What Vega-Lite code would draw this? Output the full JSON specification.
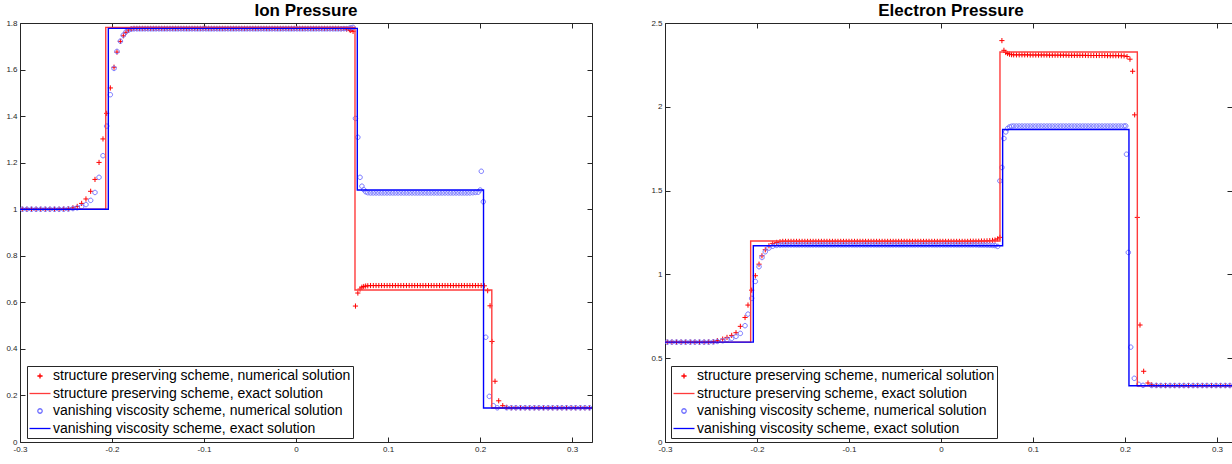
{
"$schema":"https://vega.github.io/schema/vega-lite/v6.json",
"background":"#ffffff",
"padding":{"left":5,"top":2,"right":0,"bottom":0},
"spacing":57,
"datasets":{
"ionP":[
{"x":-0.2975,"a":1,"b":1},{"x":-0.2925,"a":1,"b":1},{"x":-0.2875,"a":1,"b":1},{"x":-0.2825,"a":1,"b":1},{"x":-0.2775,"a":1,"b":1},{"x":-0.2725,"a":1,"b":1},{"x":-0.2675,"a":1,"b":1},{"x":-0.2625,"a":1,"b":1},{"x":-0.2575,"a":1,"b":1},{"x":-0.2525,"a":1.001,"b":1},
{"x":-0.2475,"a":1.002,"b":1.001},{"x":-0.2425,"a":1.006,"b":1.003},{"x":-0.2378,"a":1.012,"b":1.006},{"x":-0.233,"a":1.025,"b":1.011},{"x":-0.2283,"a":1.044,"b":1.02},{"x":-0.2232,"a":1.077,"b":1.038},{"x":-0.2185,"a":1.128,"b":1.072},{"x":-0.2141,"a":1.201,"b":1.137},{"x":-0.2098,"a":1.302,"b":1.23},{"x":-0.2058,"a":1.412,"b":1.357},{"x":-0.2018,"a":1.521,"b":1.492},{"x":-0.1978,"a":1.61,"b":1.605},{"x":-0.1946,"a":1.675,"b":1.678},{"x":-0.1909,"a":1.721,"b":1.722},{"x":-0.1877,"a":1.745,"b":1.748},{"x":-0.1848,"a":1.76,"b":1.762},{"x":-0.1819,"a":1.77,"b":1.77},{"x":-0.179,"a":1.775,"b":1.774},{"x":-0.1761,"a":1.777,"b":1.775},
{"x":-0.173,"a":1.777,"b":1.775},{"x":-0.17,"a":1.777,"b":1.775},{"x":-0.167,"a":1.777,"b":1.775},{"x":-0.164,"a":1.777,"b":1.775},{"x":-0.161,"a":1.777,"b":1.775},{"x":-0.158,"a":1.777,"b":1.775},{"x":-0.155,"a":1.777,"b":1.775},{"x":-0.152,"a":1.777,"b":1.775},{"x":-0.149,"a":1.777,"b":1.775},{"x":-0.146,"a":1.777,"b":1.775},{"x":-0.143,"a":1.777,"b":1.775},{"x":-0.14,"a":1.777,"b":1.775},{"x":-0.137,"a":1.777,"b":1.775},{"x":-0.134,"a":1.777,"b":1.775},{"x":-0.131,"a":1.777,"b":1.775},{"x":-0.128,"a":1.777,"b":1.775},{"x":-0.125,"a":1.777,"b":1.775},{"x":-0.122,"a":1.777,"b":1.775},{"x":-0.119,"a":1.777,"b":1.775},{"x":-0.116,"a":1.777,"b":1.775},{"x":-0.113,"a":1.777,"b":1.775},{"x":-0.11,"a":1.777,"b":1.775},{"x":-0.107,"a":1.777,"b":1.775},{"x":-0.104,"a":1.777,"b":1.775},{"x":-0.101,"a":1.777,"b":1.775},{"x":-0.098,"a":1.777,"b":1.775},{"x":-0.095,"a":1.777,"b":1.775},{"x":-0.092,"a":1.777,"b":1.775},{"x":-0.089,"a":1.777,"b":1.775},{"x":-0.086,"a":1.777,"b":1.775},{"x":-0.083,"a":1.777,"b":1.775},{"x":-0.08,"a":1.777,"b":1.775},{"x":-0.077,"a":1.777,"b":1.775},{"x":-0.074,"a":1.777,"b":1.775},{"x":-0.071,"a":1.777,"b":1.775},{"x":-0.068,"a":1.777,"b":1.775},{"x":-0.065,"a":1.777,"b":1.775},{"x":-0.062,"a":1.777,"b":1.775},{"x":-0.059,"a":1.777,"b":1.775},{"x":-0.056,"a":1.777,"b":1.775},{"x":-0.053,"a":1.777,"b":1.775},{"x":-0.05,"a":1.777,"b":1.775},{"x":-0.047,"a":1.777,"b":1.775},{"x":-0.044,"a":1.777,"b":1.775},{"x":-0.041,"a":1.777,"b":1.775},{"x":-0.038,"a":1.777,"b":1.775},{"x":-0.035,"a":1.777,"b":1.775},{"x":-0.032,"a":1.777,"b":1.775},{"x":-0.029,"a":1.777,"b":1.775},{"x":-0.026,"a":1.777,"b":1.775},{"x":-0.023,"a":1.777,"b":1.775},{"x":-0.02,"a":1.777,"b":1.775},{"x":-0.017,"a":1.777,"b":1.775},{"x":-0.014,"a":1.777,"b":1.775},{"x":-0.011,"a":1.777,"b":1.775},{"x":-0.008,"a":1.777,"b":1.775},{"x":-0.005,"a":1.777,"b":1.775},{"x":-0.002,"a":1.777,"b":1.775},{"x":0.001,"a":1.777,"b":1.775},{"x":0.004,"a":1.777,"b":1.775},{"x":0.007,"a":1.777,"b":1.775},{"x":0.01,"a":1.777,"b":1.775},{"x":0.013,"a":1.777,"b":1.775},{"x":0.016,"a":1.777,"b":1.775},{"x":0.019,"a":1.777,"b":1.775},{"x":0.022,"a":1.777,"b":1.775},{"x":0.025,"a":1.777,"b":1.775},{"x":0.028,"a":1.777,"b":1.775},{"x":0.031,"a":1.777,"b":1.775},{"x":0.034,"a":1.777,"b":1.775},{"x":0.037,"a":1.777,"b":1.775},{"x":0.04,"a":1.777,"b":1.775},{"x":0.043,"a":1.777,"b":1.775},{"x":0.046,"a":1.777,"b":1.775},{"x":0.049,"a":1.776,"b":1.775},{"x":0.052,"a":1.776,"b":1.776},{"x":0.055,"a":1.774,"b":1.776},{"x":0.058,"a":1.771,"b":1.777},
{"x":0.0595,"a":1.768,"b":1.779},{"x":0.062,"a":1.764,"b":1.781},{"x":0.0646,"a":0.584,"b":1.39},{"x":0.0672,"a":0.64,"b":1.309},{"x":0.0696,"a":0.657,"b":1.137},{"x":0.0716,"a":0.665,"b":1.099},{"x":0.0736,"a":0.668,"b":1.084},{"x":0.0757,"a":0.67,"b":1.075},{"x":0.078,"a":0.671,"b":1.071},
{"x":0.081,"a":0.672,"b":1.07},{"x":0.084,"a":0.672,"b":1.07},{"x":0.087,"a":0.672,"b":1.07},{"x":0.09,"a":0.672,"b":1.07},{"x":0.093,"a":0.672,"b":1.07},{"x":0.096,"a":0.672,"b":1.07},{"x":0.099,"a":0.672,"b":1.07},{"x":0.102,"a":0.672,"b":1.07},{"x":0.105,"a":0.672,"b":1.07},{"x":0.108,"a":0.672,"b":1.07},{"x":0.111,"a":0.672,"b":1.07},{"x":0.114,"a":0.672,"b":1.07},{"x":0.117,"a":0.672,"b":1.07},{"x":0.12,"a":0.672,"b":1.07},{"x":0.123,"a":0.672,"b":1.07},{"x":0.126,"a":0.672,"b":1.07},{"x":0.129,"a":0.672,"b":1.07},{"x":0.132,"a":0.672,"b":1.07},{"x":0.135,"a":0.672,"b":1.07},{"x":0.138,"a":0.672,"b":1.07},{"x":0.141,"a":0.672,"b":1.07},{"x":0.144,"a":0.672,"b":1.07},{"x":0.147,"a":0.672,"b":1.07},{"x":0.15,"a":0.672,"b":1.07},{"x":0.153,"a":0.672,"b":1.07},{"x":0.156,"a":0.672,"b":1.07},{"x":0.159,"a":0.672,"b":1.07},{"x":0.162,"a":0.672,"b":1.07},{"x":0.165,"a":0.672,"b":1.07},{"x":0.168,"a":0.672,"b":1.07},{"x":0.171,"a":0.672,"b":1.07},{"x":0.174,"a":0.672,"b":1.07},{"x":0.177,"a":0.672,"b":1.07},{"x":0.18,"a":0.672,"b":1.07},{"x":0.183,"a":0.672,"b":1.07},{"x":0.186,"a":0.672,"b":1.07},{"x":0.189,"a":0.672,"b":1.07},{"x":0.192,"a":0.672,"b":1.071},{"x":0.195,"a":0.672,"b":1.072},{"x":0.198,"a":0.672,"b":1.073},
{"x":0.2002,"b":1.0825},{"x":0.2014,"b":1.163},{"x":0.2036,"b":1.032},{"x":0.2062,"b":0.45},{"x":0.2101,"b":0.196},{"x":0.2145,"b":0.156},{"x":0.2188,"b":0.147},
{"x":0.2012,"a":0.672},{"x":0.2047,"a":0.671},{"x":0.2083,"a":0.65},{"x":0.2109,"a":0.585},{"x":0.213,"a":0.432},{"x":0.2163,"a":0.261},{"x":0.2203,"a":0.177},{"x":0.2247,"a":0.156},
{"x":0.229,"a":0.149,"b":0.147},{"x":0.234,"a":0.147,"b":0.147},{"x":0.239,"a":0.147,"b":0.147},{"x":0.244,"a":0.147,"b":0.147},{"x":0.249,"a":0.147,"b":0.147},{"x":0.254,"a":0.147,"b":0.147},{"x":0.259,"a":0.147,"b":0.147},{"x":0.264,"a":0.147,"b":0.147},{"x":0.269,"a":0.147,"b":0.147},{"x":0.274,"a":0.147,"b":0.147},{"x":0.279,"a":0.147,"b":0.147},{"x":0.284,"a":0.147,"b":0.147},{"x":0.289,"a":0.147,"b":0.147},{"x":0.294,"a":0.147,"b":0.147},{"x":0.299,"a":0.147,"b":0.147},{"x":0.304,"a":0.147,"b":0.147},{"x":0.309,"a":0.147,"b":0.147},{"x":0.314,"a":0.147,"b":0.147},{"x":0.319,"a":0.147,"b":0.147}
],
"ionE":[
{"k":"c","x":-0.3,"v":1},{"k":"c","x":-0.2068,"v":1},{"k":"c","x":-0.2068,"v":1.781},{"k":"c","x":0.0641,"v":1.781},{"k":"c","x":0.0641,"v":0.653},{"k":"c","x":0.2128,"v":0.653},{"k":"c","x":0.2128,"v":0.146},{"k":"c","x":0.3217,"v":0.146},
{"k":"d","x":-0.3,"v":1},{"k":"d","x":-0.204,"v":1},{"k":"d","x":-0.204,"v":1.777},{"k":"d","x":0.0666,"v":1.777},{"k":"d","x":0.0666,"v":1.0825},{"k":"d","x":0.2038,"v":1.0825},{"k":"d","x":0.2038,"v":0.146},{"k":"d","x":0.3217,"v":0.146}
],
"elP":[
{"x":-0.2975,"a":0.596,"b":0.596},{"x":-0.2925,"a":0.596,"b":0.596},{"x":-0.2875,"a":0.596,"b":0.596},{"x":-0.2825,"a":0.596,"b":0.596},{"x":-0.2775,"a":0.596,"b":0.596},{"x":-0.2725,"a":0.596,"b":0.596},{"x":-0.2675,"a":0.596,"b":0.596},{"x":-0.2625,"a":0.596,"b":0.596},{"x":-0.2575,"a":0.596,"b":0.596},{"x":-0.2525,"a":0.597,"b":0.596},
{"x":-0.2475,"a":0.599,"b":0.597},{"x":-0.2431,"a":0.605,"b":0.6},{"x":-0.2373,"a":0.614,"b":0.604},{"x":-0.2326,"a":0.624,"b":0.61},{"x":-0.2275,"a":0.636,"b":0.618},{"x":-0.2228,"a":0.652,"b":0.63},{"x":-0.2181,"a":0.69,"b":0.648},{"x":-0.213,"a":0.743,"b":0.694},{"x":-0.2098,"a":0.817,"b":0.763},{"x":-0.2058,"a":0.906,"b":0.857},{"x":-0.2018,"a":0.992,"b":0.958},{"x":-0.1978,"a":1.061,"b":1.046},{"x":-0.1946,"a":1.111,"b":1.101},{"x":-0.191,"a":1.147,"b":1.135},{"x":-0.187,"a":1.171,"b":1.157},{"x":-0.1829,"a":1.185,"b":1.168},{"x":-0.1786,"a":1.191,"b":1.173},{"x":-0.175,"a":1.195,"b":1.175},
{"x":-0.172,"a":1.197,"b":1.176},{"x":-0.169,"a":1.197,"b":1.176},{"x":-0.166,"a":1.197,"b":1.176},{"x":-0.163,"a":1.197,"b":1.176},{"x":-0.16,"a":1.197,"b":1.176},{"x":-0.157,"a":1.197,"b":1.176},{"x":-0.154,"a":1.197,"b":1.176},{"x":-0.151,"a":1.197,"b":1.176},{"x":-0.148,"a":1.197,"b":1.176},{"x":-0.145,"a":1.197,"b":1.176},{"x":-0.142,"a":1.197,"b":1.176},{"x":-0.139,"a":1.197,"b":1.176},{"x":-0.136,"a":1.197,"b":1.176},{"x":-0.133,"a":1.197,"b":1.176},{"x":-0.13,"a":1.197,"b":1.176},{"x":-0.127,"a":1.197,"b":1.176},{"x":-0.124,"a":1.197,"b":1.176},{"x":-0.121,"a":1.197,"b":1.176},{"x":-0.118,"a":1.197,"b":1.176},{"x":-0.115,"a":1.197,"b":1.176},{"x":-0.112,"a":1.197,"b":1.176},{"x":-0.109,"a":1.197,"b":1.176},{"x":-0.106,"a":1.197,"b":1.176},{"x":-0.103,"a":1.197,"b":1.176},{"x":-0.1,"a":1.197,"b":1.176},{"x":-0.097,"a":1.197,"b":1.176},{"x":-0.094,"a":1.197,"b":1.176},{"x":-0.091,"a":1.197,"b":1.176},{"x":-0.088,"a":1.197,"b":1.176},{"x":-0.085,"a":1.197,"b":1.176},{"x":-0.082,"a":1.197,"b":1.176},{"x":-0.079,"a":1.197,"b":1.176},{"x":-0.076,"a":1.197,"b":1.176},{"x":-0.073,"a":1.197,"b":1.176},{"x":-0.07,"a":1.197,"b":1.176},{"x":-0.067,"a":1.197,"b":1.176},{"x":-0.064,"a":1.197,"b":1.176},{"x":-0.061,"a":1.197,"b":1.176},{"x":-0.058,"a":1.197,"b":1.176},{"x":-0.055,"a":1.197,"b":1.176},{"x":-0.052,"a":1.197,"b":1.176},{"x":-0.049,"a":1.197,"b":1.176},{"x":-0.046,"a":1.197,"b":1.176},{"x":-0.043,"a":1.197,"b":1.176},{"x":-0.04,"a":1.197,"b":1.176},{"x":-0.037,"a":1.197,"b":1.176},{"x":-0.034,"a":1.197,"b":1.176},{"x":-0.031,"a":1.197,"b":1.176},{"x":-0.028,"a":1.197,"b":1.176},{"x":-0.025,"a":1.197,"b":1.176},{"x":-0.022,"a":1.197,"b":1.176},{"x":-0.019,"a":1.197,"b":1.176},{"x":-0.016,"a":1.197,"b":1.176},{"x":-0.013,"a":1.197,"b":1.176},{"x":-0.01,"a":1.197,"b":1.176},{"x":-0.007,"a":1.197,"b":1.176},{"x":-0.004,"a":1.197,"b":1.176},{"x":-0.001,"a":1.197,"b":1.176},{"x":0.002,"a":1.197,"b":1.176},{"x":0.005,"a":1.197,"b":1.176},{"x":0.008,"a":1.197,"b":1.176},{"x":0.011,"a":1.197,"b":1.176},{"x":0.014,"a":1.197,"b":1.176},{"x":0.017,"a":1.197,"b":1.176},{"x":0.02,"a":1.197,"b":1.176},{"x":0.023,"a":1.197,"b":1.176},{"x":0.026,"a":1.197,"b":1.176},{"x":0.029,"a":1.197,"b":1.176},{"x":0.032,"a":1.198,"b":1.176},{"x":0.035,"a":1.198,"b":1.176},{"x":0.038,"a":1.198,"b":1.176},{"x":0.041,"a":1.198,"b":1.175},{"x":0.044,"a":1.199,"b":1.175},{"x":0.047,"a":1.199,"b":1.175},{"x":0.05,"a":1.2,"b":1.175},{"x":0.053,"a":1.201,"b":1.174},{"x":0.056,"a":1.203,"b":1.173},
{"x":0.0587,"a":1.205,"b":1.172},{"x":0.0616,"a":1.212,"b":1.167},{"x":0.064,"a":1.221,"b":1.558},{"x":0.0662,"a":2.395,"b":1.638},{"x":0.0684,"a":2.337,"b":1.811},{"x":0.0704,"a":2.324,"b":1.85},{"x":0.0724,"a":2.318,"b":1.871},{"x":0.0745,"a":2.314,"b":1.88},{"x":0.0767,"a":2.311,"b":1.884},
{"x":0.079,"a":2.31,"b":1.885},{"x":0.082,"a":2.31,"b":1.885},{"x":0.085,"a":2.31,"b":1.885},{"x":0.088,"a":2.31,"b":1.885},{"x":0.091,"a":2.31,"b":1.885},{"x":0.094,"a":2.31,"b":1.885},{"x":0.097,"a":2.309,"b":1.885},{"x":0.1,"a":2.309,"b":1.885},{"x":0.103,"a":2.309,"b":1.885},{"x":0.106,"a":2.309,"b":1.885},{"x":0.109,"a":2.309,"b":1.885},{"x":0.112,"a":2.309,"b":1.885},{"x":0.115,"a":2.309,"b":1.885},{"x":0.118,"a":2.308,"b":1.885},{"x":0.121,"a":2.308,"b":1.885},{"x":0.124,"a":2.308,"b":1.885},{"x":0.127,"a":2.308,"b":1.885},{"x":0.13,"a":2.308,"b":1.885},{"x":0.133,"a":2.308,"b":1.885},{"x":0.136,"a":2.308,"b":1.885},{"x":0.139,"a":2.307,"b":1.885},{"x":0.142,"a":2.307,"b":1.885},{"x":0.145,"a":2.307,"b":1.885},{"x":0.148,"a":2.307,"b":1.885},{"x":0.151,"a":2.307,"b":1.885},{"x":0.154,"a":2.307,"b":1.885},{"x":0.157,"a":2.307,"b":1.885},{"x":0.16,"a":2.306,"b":1.885},{"x":0.163,"a":2.306,"b":1.885},{"x":0.166,"a":2.306,"b":1.885},{"x":0.169,"a":2.306,"b":1.885},{"x":0.172,"a":2.306,"b":1.885},{"x":0.175,"a":2.306,"b":1.885},{"x":0.178,"a":2.306,"b":1.885},{"x":0.181,"a":2.305,"b":1.885},{"x":0.184,"a":2.305,"b":1.885},{"x":0.187,"a":2.305,"b":1.885},{"x":0.19,"a":2.305,"b":1.885},{"x":0.193,"a":2.305,"b":1.885},{"x":0.196,"a":2.304,"b":1.885},{"x":0.199,"a":2.304,"b":1.885},
{"x":0.2008,"b":1.886},{"x":0.2016,"b":1.717},{"x":0.2036,"b":1.131},{"x":0.2062,"b":0.566},{"x":0.2101,"b":0.38},{"x":0.2149,"b":0.344},{"x":0.2196,"b":0.338},
{"x":0.2022,"a":2.3},{"x":0.2054,"a":2.284},{"x":0.2083,"a":2.212},{"x":0.2105,"a":1.952},{"x":0.2134,"a":1.34},{"x":0.2163,"a":0.698},{"x":0.2203,"a":0.422},{"x":0.225,"a":0.352},
{"x":0.229,"a":0.341,"b":0.337},{"x":0.234,"a":0.338,"b":0.337},{"x":0.239,"a":0.337,"b":0.337},{"x":0.244,"a":0.337,"b":0.337},{"x":0.249,"a":0.337,"b":0.337},{"x":0.254,"a":0.337,"b":0.337},{"x":0.259,"a":0.337,"b":0.337},{"x":0.264,"a":0.337,"b":0.337},{"x":0.269,"a":0.337,"b":0.337},{"x":0.274,"a":0.337,"b":0.337},{"x":0.279,"a":0.337,"b":0.337},{"x":0.284,"a":0.337,"b":0.337},{"x":0.289,"a":0.337,"b":0.337},{"x":0.294,"a":0.337,"b":0.337},{"x":0.299,"a":0.337,"b":0.337},{"x":0.304,"a":0.337,"b":0.337},{"x":0.309,"a":0.337,"b":0.337},{"x":0.314,"a":0.337,"b":0.337}
],
"elE":[
{"k":"c","x":-0.3,"v":0.596},{"k":"c","x":-0.2069,"v":0.596},{"k":"c","x":-0.2069,"v":1.199},{"k":"c","x":0.0641,"v":1.199},{"k":"c","x":0.0641,"v":2.327},{"k":"c","x":0.2134,"v":2.327},{"k":"c","x":0.2134,"v":0.336},{"k":"c","x":0.3163,"v":0.336},
{"k":"d","x":-0.3,"v":0.596},{"k":"d","x":-0.204,"v":0.596},{"k":"d","x":-0.204,"v":1.171},{"k":"d","x":0.067,"v":1.171},{"k":"d","x":0.067,"v":1.865},{"k":"d","x":0.2043,"v":1.865},{"k":"d","x":0.2043,"v":0.336},{"k":"d","x":0.3163,"v":0.336}
]
},
"hconcat":[
{
"width":572,"height":419,
"title":{"text":"Ion Pressure"},
"layer":[
{"data":{"name":"ionP"},
"transform":[{"fold":["a","b"],"as":["k","v"]},{"filter":"isValid(datum.v)"}],
"mark":{"type":"point","filled":false,"opacity":1,"strokeWidth":1,"size":196,"clip":true},
"encoding":{
"x":{"field":"x","type":"quantitative","scale":{"domain":[-0.3,0.3217],"nice":false,"zero":false},"axis":{"orient":"bottom","title":null,"values":[-0.3,-0.2,-0.1,0,0.1,0.2,0.3],"labelExpr":"replace(format(datum.value,'~g'),'\u2212','-')"}},
"y":{"field":"v","type":"quantitative","scale":{"domain":[0,1.8],"nice":false,"zero":false},"axis":{"orient":"left","title":null,"values":[0,0.2,0.4,0.6,0.8,1,1.2,1.4,1.6,1.8],"format":"~g"}},
"color":{"field":"k","type":"nominal","scale":{"domain":["a","c","b","d"],"range":["#ff0000","#ff3b3b","#7373ff","#0000ff"]},"legend":{"orient":"none","legendX":7,"legendY":343,"title":null,"labelExpr":"datum.label=='a'?'structure preserving scheme, numerical solution':datum.label=='b'?'vanishing viscosity scheme, numerical solution':datum.label=='c'?'structure preserving scheme, exact solution':'vanishing viscosity scheme, exact solution'"}},
"shape":{"field":"k","type":"nominal","scale":{"domain":["a","c","b","d"],"range":["M-0.37,0H0.37M0,-0.37V0.37","M-1.5,0H1.5","M0.32,0A0.32,0.32,0,1,1,-0.32,0A0.32,0.32,0,1,1,0.32,0","M-1.5,0H1.5"]},"legend":{"orient":"none","legendX":7,"legendY":343,"title":null,"labelExpr":"datum.label=='a'?'structure preserving scheme, numerical solution':datum.label=='b'?'vanishing viscosity scheme, numerical solution':datum.label=='c'?'structure preserving scheme, exact solution':'vanishing viscosity scheme, exact solution'"}}
}},
{"data":{"name":"ionE"},
"mark":{"type":"line","strokeWidth":1.4,"clip":true},
"encoding":{
"x":{"field":"x","type":"quantitative","axis":{"orient":"top","title":null,"labels":false,"values":[-0.3,-0.2,-0.1,0,0.1,0.2,0.3]}},
"y":{"field":"v","type":"quantitative","axis":{"orient":"right","title":null,"labels":false,"values":[0,0.2,0.4,0.6,0.8,1,1.2,1.4,1.6,1.8]}},
"color":{"field":"k","type":"nominal"}
}}
],
"resolve":{"axis":{"x":"independent","y":"independent"}}
},
{
"width":567,"height":419,
"title":{"text":"Electron Pressure","dx":2.5},
"layer":[
{"data":{"name":"elP"},
"transform":[{"fold":["a","b"],"as":["k","v"]},{"filter":"isValid(datum.v)"}],
"mark":{"type":"point","filled":false,"opacity":1,"strokeWidth":1,"size":196,"clip":true},
"encoding":{
"x":{"field":"x","type":"quantitative","scale":{"domain":[-0.3,0.3163],"nice":false,"zero":false},"axis":{"orient":"bottom","title":null,"values":[-0.3,-0.2,-0.1,0,0.1,0.2,0.3],"labelExpr":"replace(format(datum.value,'~g'),'\u2212','-')"}},
"y":{"field":"v","type":"quantitative","scale":{"domain":[0,2.5],"nice":false,"zero":false},"axis":{"orient":"left","title":null,"values":[0,0.5,1,1.5,2,2.5],"format":"~g"}},
"color":{"field":"k","type":"nominal","scale":{"domain":["a","c","b","d"],"range":["#ff0000","#ff3b3b","#7373ff","#0000ff"]},"legend":{"orient":"none","legendX":6,"legendY":343,"title":null,"labelExpr":"datum.label=='a'?'structure preserving scheme, numerical solution':datum.label=='b'?'vanishing viscosity scheme, numerical solution':datum.label=='c'?'structure preserving scheme, exact solution':'vanishing viscosity scheme, exact solution'"}},
"shape":{"field":"k","type":"nominal","scale":{"domain":["a","c","b","d"],"range":["M-0.37,0H0.37M0,-0.37V0.37","M-1.5,0H1.5","M0.32,0A0.32,0.32,0,1,1,-0.32,0A0.32,0.32,0,1,1,0.32,0","M-1.5,0H1.5"]},"legend":{"orient":"none","legendX":6,"legendY":343,"title":null,"labelExpr":"datum.label=='a'?'structure preserving scheme, numerical solution':datum.label=='b'?'vanishing viscosity scheme, numerical solution':datum.label=='c'?'structure preserving scheme, exact solution':'vanishing viscosity scheme, exact solution'"}}
}},
{"data":{"name":"elE"},
"mark":{"type":"line","strokeWidth":1.4,"clip":true},
"encoding":{
"x":{"field":"x","type":"quantitative","axis":{"orient":"top","title":null,"labels":false,"values":[-0.3,-0.2,-0.1,0,0.1,0.2,0.3]}},
"y":{"field":"v","type":"quantitative","axis":{"orient":"right","title":null,"labels":false,"values":[0,0.5,1,1.5,2,2.5]}},
"color":{"field":"k","type":"nominal"}
}}
],
"resolve":{"axis":{"x":"independent","y":"independent"}}
}
],
"resolve":{"scale":{"x":"independent","y":"independent","color":"independent","shape":"independent"},"legend":{"color":"independent","shape":"independent"}},
"config":{
"view":{"stroke":null},
"axis":{"grid":false,"domainColor":"#262626","tickColor":"#262626","labelColor":"#262626","labelFont":"Liberation Sans","labelFontSize":8,"tickSize":-5,"labelPadding":8,"labelFlush":false,"labelOverlap":false,"domainWidth":1,"tickWidth":1},
"title":{"font":"Liberation Sans","fontSize":17,"fontWeight":"bold","color":"#000000","offset":-1,"baseline":"alphabetic"},
"legend":{"labelFont":"Liberation Sans","labelFontSize":14,"labelColor":"#000000","labelLimit":500,"strokeColor":"#262626","fillColor":"#ffffff","padding":2,"symbolSize":196,"symbolStrokeWidth":1.3,"rowPadding":2.5,"labelOffset":5,"symbolOffset":3}
}
}
